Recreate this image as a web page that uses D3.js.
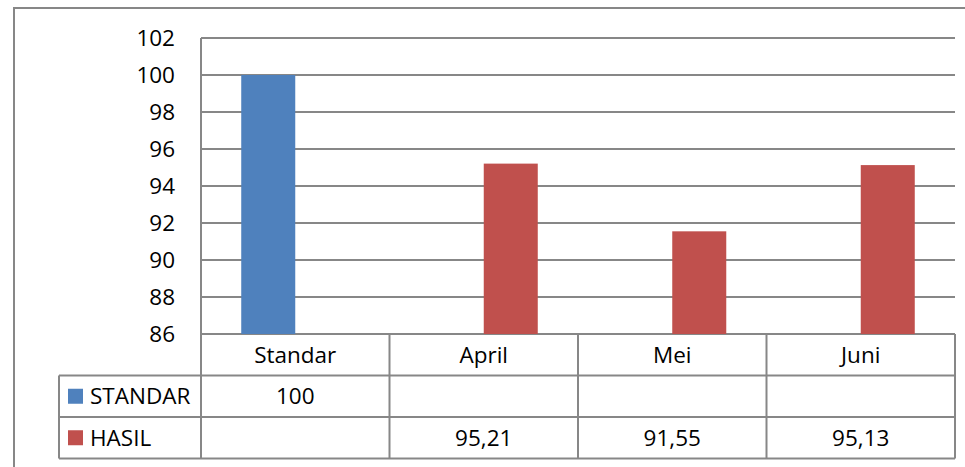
<!DOCTYPE html>
<html>
<head>
<meta charset="utf-8">
<script src="https://cdn.jsdelivr.net/npm/d3@7"></script>
<style>
  body { margin: 0; background: #fff; }
  svg text { font-family: "Open Sans", "Noto Sans", sans-serif; fill: #000; }
</style>
</head>
<body>
<div id="chart"></div>
<script>
// data
var categories = ["Standar", "April", "Mei", "Juni"];
var seriesNames = ["STANDAR", "HASIL"];
var standarValues = [100, null, null, null];
var hasilValues = [null, 95.21, 91.55, 95.13];
var seriesColors = ["#4F81BD", "#C0504D"];
var yTicks = [86, 88, 90, 92, 94, 96, 98, 100, 102];

(() => {
  var width = 965;
  var height = 467;
  var lineColor = "#878787";
  var fontSize = "22.5px";

  var svg = d3.select("#chart")
    .append("svg")
    .attr("width", width)
    .attr("height", height);

  var plotLeft = 201, plotRight = 955, plotTop = 38, plotBottom = 334;
  var rowH = 41.5;
  var tableLeft = 59;

  var y = d3.scaleLinear().domain([86, 102]).range([plotBottom, plotTop]);
  var x = d3.scaleBand().domain(categories).range([plotLeft, plotRight]).padding(0);
  var xs = d3.scaleBand().domain(seriesNames).range([0, x.bandwidth()])
    .paddingInner(0).paddingOuter(0.745);

  // outer frame (left and top edges visible)
  svg.append("path")
    .attr("d", "M14," + height + " L14,8 L" + width + ",8")
    .attr("fill", "none")
    .attr("stroke", lineColor)
    .attr("stroke-width", 2);

  // gridlines
  svg.append("g")
    .selectAll("line")
    .data(yTicks)
    .enter()
    .append("line")
    .attr("x1", plotLeft)
    .attr("x2", plotRight)
    .attr("y1", d => y(d))
    .attr("y2", d => y(d))
    .attr("stroke", lineColor)
    .attr("stroke-width", 2);

  // y tick labels
  svg.append("g")
    .selectAll("text")
    .data(yTicks)
    .enter()
    .append("text")
    .attr("x", 175)
    .attr("y", d => y(d))
    .attr("dy", "0.35em")
    .attr("text-anchor", "end")
    .style("font-size", fontSize)
    .text(d => d);

  // bars
  var allSeries = [standarValues, hasilValues];
  allSeries.forEach(function(values, si) {
    svg.append("g")
      .selectAll("rect")
      .data(categories.map((c, i) => ({ cat: c, v: values[i] })).filter(d => d.v != null))
      .enter()
      .append("rect")
      .attr("x", d => x(d.cat) + xs(seriesNames[si]))
      .attr("width", xs.bandwidth())
      .attr("y", d => y(d.v))
      .attr("height", d => y(86) - y(d.v))
      .attr("fill", seriesColors[si]);
  });

  // data table
  var table = svg.append("g").attr("class", "data-table");
  var rowTops = [plotBottom, plotBottom + rowH, plotBottom + 2 * rowH, plotBottom + 3 * rowH];

  // horizontal table lines
  table.selectAll("line.h")
    .data(rowTops.slice(1))
    .enter()
    .append("line")
    .attr("class", "h")
    .attr("x1", tableLeft)
    .attr("x2", plotRight)
    .attr("y1", d => d)
    .attr("y2", d => d)
    .attr("stroke", lineColor)
    .attr("stroke-width", 2);

  // vertical table lines
  var colEdges = categories.map(c => x(c)).concat([plotRight]);
  table.selectAll("line.v")
    .data(colEdges)
    .enter()
    .append("line")
    .attr("class", "v")
    .attr("x1", d => d)
    .attr("x2", d => d)
    .attr("y1", (d, i) => i == 0 ? plotTop : plotBottom)
    .attr("y2", rowTops[3])
    .attr("stroke", lineColor)
    .attr("stroke-width", 2);

  table.append("line")
    .attr("x1", tableLeft).attr("x2", tableLeft)
    .attr("y1", rowTops[1]).attr("y2", rowTops[3])
    .attr("stroke", lineColor)
    .attr("stroke-width", 2);

  // category labels
  table.selectAll("text.cat")
    .data(categories)
    .enter()
    .append("text")
    .attr("class", "cat")
    .attr("x", d => x(d) + x.bandwidth() / 2)
    .attr("y", rowTops[0] + rowH / 2)
    .attr("dy", "0.35em")
    .attr("text-anchor", "middle")
    .style("font-size", fontSize)
    .text(d => d);

  // series rows
  allSeries.forEach(function(values, si) {
    var rowY = rowTops[si + 1] + rowH / 2;
    table.append("rect")
      .attr("x", 68)
      .attr("y", rowY - 7.5)
      .attr("width", 15)
      .attr("height", 15)
      .attr("fill", seriesColors[si]);
    table.append("text")
      .attr("x", 90)
      .attr("y", rowY)
      .attr("dy", "0.35em")
      .style("font-size", fontSize)
      .text(seriesNames[si]);
    table.selectAll("text.val" + si)
      .data(categories.map((c, i) => ({ cat: c, v: values[i] })).filter(d => d.v != null))
      .enter()
      .append("text")
      .attr("x", d => x(d.cat) + x.bandwidth() / 2)
      .attr("y", rowY)
      .attr("dy", "0.35em")
      .attr("text-anchor", "middle")
      .style("font-size", fontSize)
      .text(d => String(d.v).replace(".", ","));
  });
})();
</script>
</body>
</html>
